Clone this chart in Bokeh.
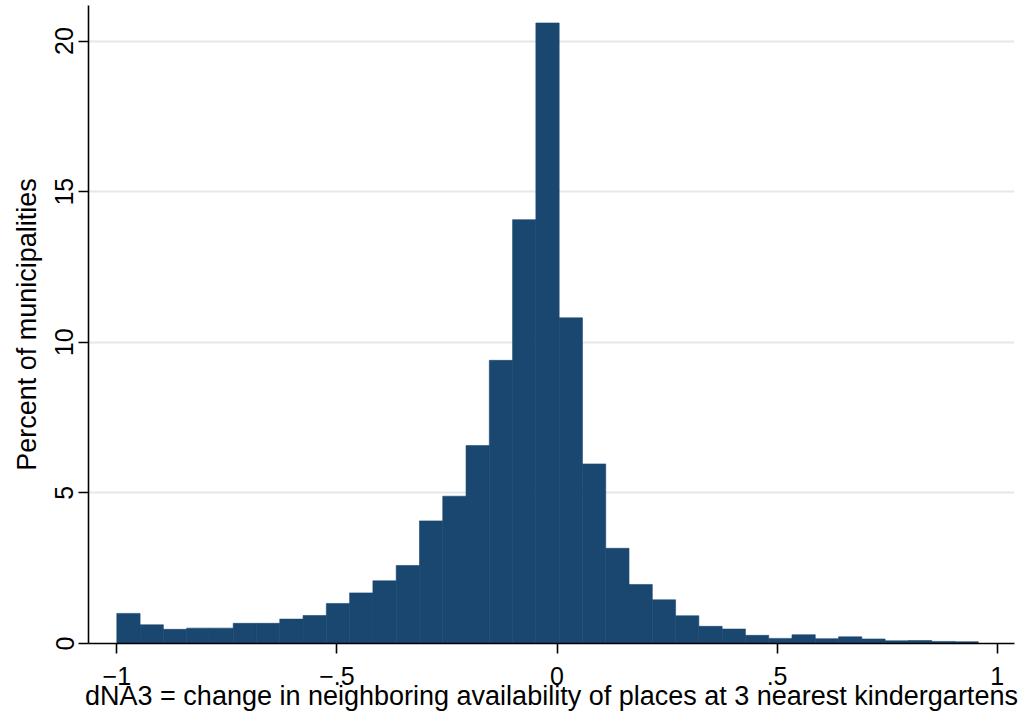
from bokeh.plotting import figure
from bokeh.models import FixedTicker, Range1d, ColumnDataSource
from bokeh.embed import file_html
from bokeh.resources import INLINE

# ---- data ----
bin_start = -1.0
bin_width = 0.05289
percent = [1.00, 0.62, 0.47, 0.51, 0.51, 0.67, 0.67, 0.81, 0.93, 1.33,
           1.68, 2.08, 2.59, 4.07, 4.89, 6.57, 9.40, 14.07, 20.60, 10.81,
           5.96, 3.16, 1.96, 1.45, 0.92, 0.57, 0.48, 0.27, 0.17, 0.29,
           0.16, 0.22, 0.15, 0.09, 0.10, 0.07, 0.06]
x_ticks = [-1, -0.5, 0, 0.5, 1]
x_tick_labels = ["\u22121", "\u2212.5", "0", ".5", "1"]
y_ticks = [0, 5, 10, 15, 20]
x_title = "dNA3 = change in neighboring availability of places at 3 nearest kindergartens"
y_title = "Percent of municipalities"

left = [bin_start + i * bin_width for i in range(len(percent))]
right = [l + bin_width for l in left]
src = ColumnDataSource(dict(left=left, right=right, top=percent, bottom=[0] * len(percent)))

FONT = "Liberation Sans"
BAR = "#1a476f"

p = figure(width=1026, height=717, output_backend="svg", toolbar_location=None,
           x_range=Range1d(-1.0643, 1.0393), y_range=Range1d(0, 21.18),
           min_border_left=88, min_border_right=12, min_border_top=5, min_border_bottom=74,
           background_fill_color="white", border_fill_color="white")
p.outline_line_color = None

p.quad(left="left", right="right", top="top", bottom="bottom", source=src,
       fill_color=BAR, line_color=BAR, line_width=0.6)

# x axis
xa = p.xaxis[0]
xa.ticker = FixedTicker(ticks=x_ticks)
xa.major_label_overrides = {t: l for t, l in zip(x_ticks, x_tick_labels)}
xa.axis_label = x_title
# y axis
ya = p.yaxis[0]
ya.ticker = FixedTicker(ticks=y_ticks)
ya.axis_label = y_title
ya.major_label_orientation = "vertical"

for ax in (xa, ya):
    ax.axis_line_color = "black"
    ax.axis_line_width = 1.6
    ax.major_tick_line_color = "black"
    ax.major_tick_line_width = 1.6
    ax.major_tick_in = 0
    ax.major_tick_out = 10
    ax.minor_tick_line_color = None
    ax.major_label_text_font = FONT
    ax.major_label_text_font_size = "25px"
    ax.major_label_text_color = "black"
    ax.axis_label_text_font = FONT
    ax.axis_label_text_font_size = "27px"
    ax.axis_label_text_font_style = "normal"
    ax.axis_label_text_color = "black"

xa.major_label_standoff = 13
xa.axis_label_standoff = -7
ya.major_label_standoff = 5
ya.axis_label_standoff = 11

p.xgrid.grid_line_color = None
p.ygrid.grid_line_color = "#e4e8e9"
p.ygrid.grid_line_width = 2

open("out.html", "w").write(file_html(p, INLINE))
